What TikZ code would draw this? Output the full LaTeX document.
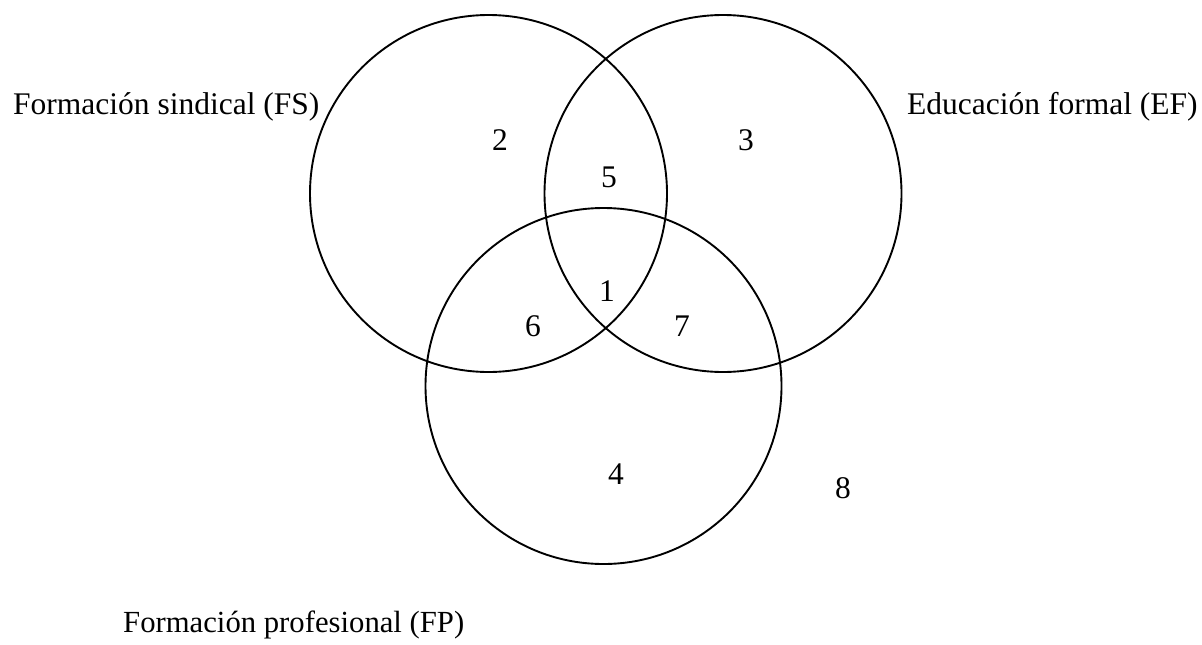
\documentclass[tikz,border=0pt]{standalone}
\usepackage{fontspec}
\setmainfont{Liberation Serif}
\begin{document}
\begin{tikzpicture}[x=1pt,y=-1pt,
  setc/.style={draw=black,line width=1.9pt},
  lbl/.style={inner sep=0pt,font=\fontsize{31.5}{36}\selectfont},
  num/.style={inner sep=0pt,font=\fontsize{31.5}{36}\selectfont}]
\useasboundingbox (0,0) rectangle (1202,645);
\draw[setc] (488.5,193.5) circle (178.5);
\draw[setc] (723,193.5) circle (178.5);
\draw[setc] (603.5,386) circle (178);
\node[lbl,anchor=base west] (fs) at (13,114) {Formación sindical (FS)};
\node[lbl,anchor=base west] (ef) at (907,114) {Educación formal (EF)};
\node[lbl,anchor=base west,font=\fontsize{30.7}{36}\selectfont] (fp) at (123,632) {Formación profesional (FP)};
\node[num] (n2) at (500,140) {2};
\node[num] (n3) at (746,140) {3};
\node[num] (n5) at (609,177) {5};
\node[num] (n1) at (607,291) {1};
\node[num] (n6) at (533,326) {6};
\node[num] (n7) at (682,326) {7};
\node[num] (n4) at (616,474) {4};
\node[num] (n8) at (843,488) {8};
\end{tikzpicture}
\end{document}
